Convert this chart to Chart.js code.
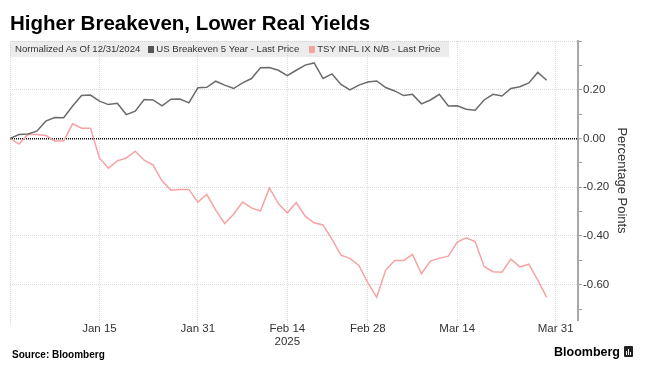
<!DOCTYPE html>
<html>
<head>
<meta charset="utf-8">
<script src="https://cdn.jsdelivr.net/npm/chart.js@4.4.1/dist/chart.umd.min.js"></script>
<style>
html,body{margin:0;padding:0;background:#fff;}
#wrap{position:relative;width:648px;height:378px;overflow:hidden;font-family:'Liberation Sans',Arial,sans-serif;}
#chart{position:absolute;left:0;top:0;}
#title{position:absolute;left:10px;top:11px;font-weight:bold;font-size:20.5px;color:#000;white-space:nowrap;}
#legend{position:absolute;left:10px;top:41px;height:16px;width:439px;background:rgba(200,200,200,0.35);font-size:9.6px;color:#333;line-height:16px;white-space:nowrap;}
#legend span{display:inline-block;vertical-align:top;}
.sq{width:6px;height:7px;margin-top:5px;margin-right:2px;}
#source{position:absolute;left:12px;top:349px;font-weight:bold;font-size:10px;color:#000;}
#logo{position:absolute;left:554px;top:345px;font-weight:bold;font-size:12.5px;color:#000;white-space:nowrap;}
#icon{display:inline-block;width:9px;height:11px;background:#222;border-radius:1px;vertical-align:-1px;margin-left:4px;position:relative;}
#icon i{position:absolute;bottom:2px;width:1px;background:#fff;}
</style>
</head>
<body>
<div id="wrap">
<canvas id="chart" width="648" height="378"></canvas>
<div id="title">Higher Breakeven, Lower Real Yields</div>
<div id="legend"><span style="margin-left:5px">Normalized As Of 12/31/2024</span><span class="sq" style="margin-left:8px;background:#555"></span><span>US Breakeven 5 Year - Last Price</span><span class="sq" style="margin-left:10px;background:#f4a3a3"></span><span>TSY INFL IX N/B - Last Price</span></div>
<div id="source">Source: Bloomberg</div>
<div id="logo">Bloomberg<span id="icon"><i style="left:2px;height:4px"></i><i style="left:4px;height:6px"></i><i style="left:6px;height:3px"></i></span></div>
</div>
<script>
// Trading days (x categories)
const dates = [
 '2024-12-31',
 '2025-01-02','2025-01-03',
 '2025-01-06','2025-01-07','2025-01-08','2025-01-09','2025-01-10',
 '2025-01-13','2025-01-14','2025-01-15','2025-01-16','2025-01-17',
 '2025-01-21','2025-01-22','2025-01-23','2025-01-24',
 '2025-01-27','2025-01-28','2025-01-29','2025-01-30','2025-01-31',
 '2025-02-03','2025-02-04','2025-02-05','2025-02-06','2025-02-07',
 '2025-02-10','2025-02-11','2025-02-12','2025-02-13','2025-02-14',
 '2025-02-18','2025-02-19','2025-02-20','2025-02-21',
 '2025-02-24','2025-02-25','2025-02-26','2025-02-27','2025-02-28',
 '2025-03-03','2025-03-04','2025-03-05','2025-03-06','2025-03-07',
 '2025-03-10','2025-03-11','2025-03-12','2025-03-13','2025-03-14',
 '2025-03-17','2025-03-18','2025-03-19','2025-03-20','2025-03-21',
 '2025-03-24','2025-03-25','2025-03-26','2025-03-27','2025-03-28'
];
// US Breakeven 5 Year, normalized (percentage points)
const breakeven5y = [
 0, 0.016, 0.018, 0.030, 0.071, 0.086, 0.085, 0.133, 0.176, 0.178,
 0.153, 0.139, 0.144, 0.098, 0.112, 0.160, 0.158, 0.134, 0.161, 0.162,
 0.146, 0.208, 0.210, 0.235, 0.219, 0.205, 0.228, 0.246, 0.290, 0.291,
 0.280, 0.258, 0.280, 0.301, 0.310, 0.246, 0.265, 0.222, 0.199, 0.219,
 0.232, 0.236, 0.209, 0.195, 0.176, 0.181, 0.142, 0.158, 0.181, 0.133,
 0.134, 0.120, 0.116, 0.158, 0.181, 0.174, 0.205, 0.212, 0.228, 0.271,
 0.239
];
// TSY INFL IX N/B (real yield), normalized (percentage points)
const tipsYield = [
 0, -0.023, 0.016, 0.016, 0.012, -0.010, -0.010, 0.060, 0.042, 0.042,
 -0.080, -0.122, -0.092, -0.080, -0.052, -0.089, -0.109, -0.175, -0.212, -0.209,
 -0.209, -0.261, -0.230, -0.294, -0.349, -0.311, -0.261, -0.285, -0.298, -0.203,
 -0.267, -0.305, -0.263, -0.319, -0.346, -0.355, -0.414, -0.479, -0.492, -0.521,
 -0.592, -0.652, -0.540, -0.501, -0.501, -0.476, -0.555, -0.503, -0.491, -0.483,
 -0.425, -0.408, -0.423, -0.525, -0.547, -0.549, -0.495, -0.527, -0.516, -0.581,
 -0.652
];
const seriesNames = ['US Breakeven 5 Year - Last Price', 'TSY INFL IX N/B - Last Price'];
const tickDates = ['2025-01-15','2025-01-31','2025-02-14','2025-02-28','2025-03-14','2025-03-31'];
const tickLabels = ['Jan 15','Jan 31',['Feb 14','2025'],'Feb 28','Mar 14','Mar 31'];
const yGridTicks = [0.4, 0.2, 0, -0.2, -0.4, -0.6];
const yLabeledTicks = [0.2, 0, -0.2, -0.4, -0.6];
const yMinorTicks = [0.3, 0.1, -0.1, -0.3, -0.5, -0.7];

const dateIndex = d => { const i = dates.indexOf(d); return i >= 0 ? i : dates.filter(x => x < d).length; };
const xTickValues = [0].concat(tickDates.map(dateIndex));
const xTickText = [''].concat(tickLabels);
const has = (arr, v) => arr.some(a => Math.abs(a - v) < 1e-9);

const toPts = arr => arr.map((v, i) => ({x: i, y: v}));

new Chart(document.getElementById('chart'), {
  type: 'line',
  data: {
    datasets: [
      {label: seriesNames[0], data: toPts(breakeven5y), borderColor: '#6b6b6b', borderWidth: 1.5, pointRadius: 0, tension: 0},
      {label: seriesNames[1], data: toPts(tipsYield), borderColor: '#f5a3a3', borderWidth: 1.5, pointRadius: 0, tension: 0}
    ]
  },
  options: {
    responsive: false,
    animation: false,
    devicePixelRatio: 1,
    layout: {padding: {left: 10, top: 41, right: 0, bottom: 28}},
    plugins: {legend: {display: false}, tooltip: {enabled: false}},
    scales: {
      x: {
        type: 'linear', position: 'bottom', min: 0, max: 63.5,
        afterBuildTicks: s => { s.ticks = xTickValues.map(v => ({value: v})); },
        afterFit: s => { s.height = 30; },
        ticks: {
          autoSkip: false, maxRotation: 0, padding: -3, color: '#333',
          font: {family: 'Liberation Sans', size: 11.5, lineHeight: 1.15},
          callback: (v, i) => xTickText[i]
        },
        grid: {color: '#dadada', lineWidth: 1, tickLength: 5, tickColor: '#dadada', tickBorderDash: [1,1]},
        border: {display: false, dash: [1,1]}
      },
      y: {
        type: 'linear', position: 'right', min: -0.745, max: 0.4,
        afterBuildTicks: s => { s.ticks = yGridTicks.concat(yMinorTicks).sort((a,b)=>a-b).map(v => ({value: v})); },
        afterFit: s => { s.width = 70; },
        ticks: {
          autoSkip: false, padding: 1, color: '#333',
          font: {family: 'Liberation Sans', size: 11.5},
          callback: v => has(yLabeledTicks, v) ? v.toFixed(2) : ''
        },
        grid: {
          color: c => Math.abs(c.tick.value) < 1e-9 ? '#000' : (has(yGridTicks, c.tick.value) ? '#dadada' : 'rgba(0,0,0,0)'),
          lineWidth: c => Math.abs(c.tick.value) < 1e-9 ? 1.5 : 1,
          tickLength: 4, tickColor: '#999', tickWidth: 1
        },
        border: {display: true, color: '#a8a8a8', width: 2, dash: [1,1]},
        title: {display: true, text: 'Percentage Points', color: '#333', font: {family: 'Liberation Sans', size: 13}, padding: {top: 19, bottom: 0}}
      }
    }
  }
});
</script>
</body>
</html>
